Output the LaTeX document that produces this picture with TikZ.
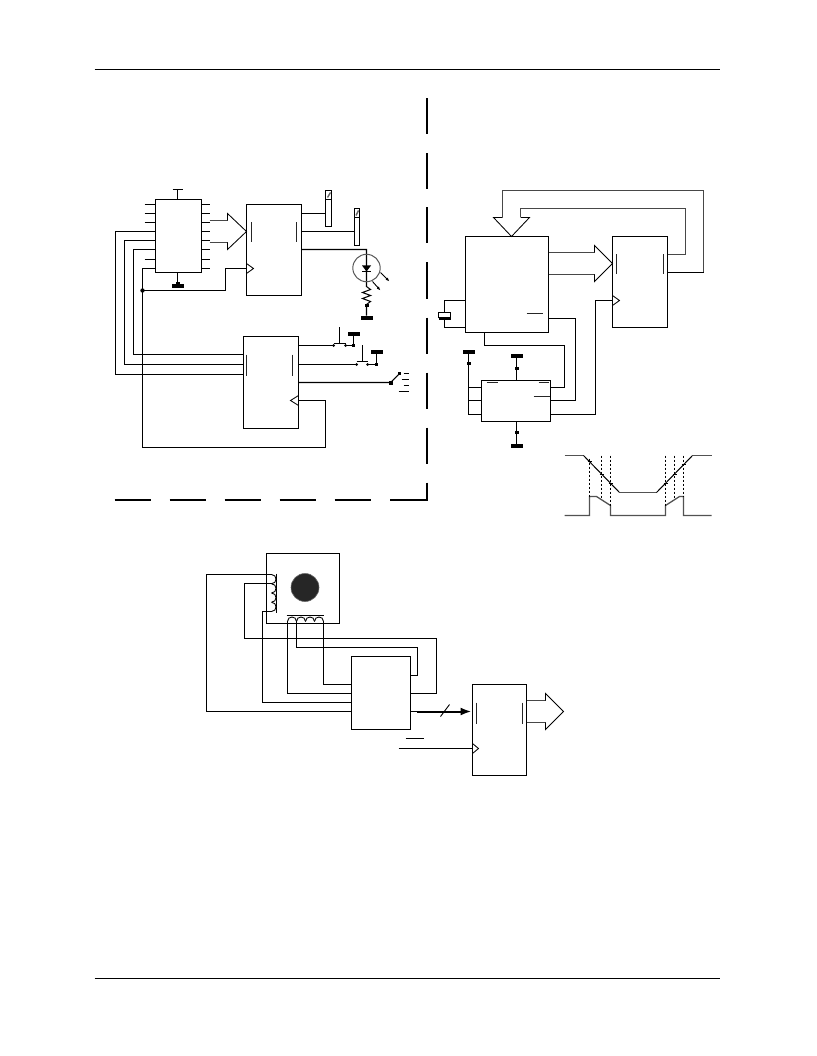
\documentclass[tikz,border=0pt]{standalone}
\usetikzlibrary{arrows.meta}
\newcommand{\icbox}[5]{\node[icb,minimum width={(#4-#2)*1pt},minimum height={(#5-#3)*1pt}] (#1) at ({(#2+#4)/2},{(#3+#5)/2}) {};}
\newcommand{\gbar}[2]{\fill (#1-6,#2-2) rectangle (#1+6,#2+2);}
\newcommand{\gblock}[2]{\fill (#1-2,#2-1.5) rectangle (#1+2,#2+1.5);}
\begin{document}
\begin{tikzpicture}[x=1pt,y=-1pt,line width=1.05pt,line join=miter,
  icb/.style={draw,rectangle,inner sep=0pt,outer sep=0pt,line width=1.05pt},
  wire/.style={draw=black,line width=1.05pt},
  bus/.style={draw=black!72,line width=1.6pt},
  head/.style={draw=black,line width=.85pt,fill=none},
  inbar/.style={draw=black!85,line width=.9pt},
  border/.style={draw=black,line width=2pt},
  rule/.style={draw=black,line width=.8pt},
  wave/.style={draw=black!68,line width=1.3pt},
  wdiag/.style={draw=black,line width=1pt},
  vdash/.style={draw=black,line width=.8pt,dash pattern=on 2.5pt off 1.5pt}]
\useasboundingbox (0,0) rectangle (816,1056);
\begin{scope}[shift={(-.5,.5)}]
% page rules
\coordinate (ruleTL) at (95,68.5); \coordinate (ruleTR) at (720,68.5);
\coordinate (ruleBL) at (95,978); \coordinate (ruleBR) at (720,978);
\draw[rule] (ruleTL) -- (ruleTR);
\draw[rule] (ruleBL) -- (ruleBR);
% dashed border
\foreach \y in {98,153,207,262,317,372,427} \draw[border] (427,\y) -- (427,\y+36);
\draw[border] (427,482) -- (427,499) -- (390,499);
\foreach \x in {115,170,225,280,335} \draw[border] (\x,499) -- (\x+36,499);
% ---- left: chip and latches
\icbox{ua}{156}{199}{202}{272}
\icbox{ub}{247}{204}{302}{295}
\icbox{uc}{244}{336}{299}{428}
\foreach \y in {204,213,222} \draw[wire] (145,\y) -- (156,\y);
\draw[wire] (145,259) -- (156,259);
\foreach \y in {204,213,222,231,240,249,259,268} \draw[wire] (202,\y) -- (210,\y);
\draw[wire] (178,199) -- (178,189) (173,189) -- (183,189);
\coordinate (uaG) at (178,286);
\draw[wire] (178,272) -- (uaG);
\gbar{178}{285.5}
\fill (176,282) rectangle (180,284);
\foreach \n/\x/\ya/\yb in {a/116/231/374,b/125/240/364,c/134/249/354}{
  \coordinate (ua\n) at (156,\ya);
  \coordinate (uc\n) at (244,\yb);
  \draw[wire] (ua\n) -- (\x,\ya) -- (\x,\yb) -- (uc\n);
}
\coordinate (uaClk) at (156,268);
\coordinate (jn) at (143,290);
\coordinate (ubClk) at (247,268);
\coordinate (ucClk) at (299,400);
\draw[wire] (uaClk) -- (143,268) -- (143,447) -- (326,447) -- (326,400) -- (ucClk);
\draw[wire] (jn) -- (226,290) -- (226,268) -- (ubClk);
\fill (jn) circle (2.2);
\draw[inbar] (252,222) -- (252,242) (297,222) -- (297,242);
\draw[inbar] (247,354) -- (247,375) (293,354) -- (293,375);
% clocks
\draw[head] (247,263) -- (254,268) -- (247,273);
\draw[head] (299,395) -- (291,400) -- (299,405);
% bus arrow 1
\draw[bus] (210,220) -- (228,220) (210,242) -- (228,242);
\draw[head] (228,220) -- (228,213) -- (247,231) -- (228,249) -- (228,242);
% slats
\node[icb,minimum width=6pt,minimum height=36pt] (slata) at (329,208) {};
\node[icb,minimum width=5pt,minimum height=37pt] (slatb) at (357.5,226.5) {};
\draw[wire] (326,199) -- (332,199) (355,217) -- (360,217);
\draw[draw=black!60,line width=1.4pt] (328,197) -- (331,192) (356.5,215) -- (359,210);
\coordinate (uba) at (302,213); \coordinate (ubb) at (302,231); \coordinate (ubc) at (302,249);
\draw[wire] (uba) -- (slata.west |- uba);
\draw[wire] (ubb) -- (slatb.west |- ubb);
% LED
\coordinate (ledT) at (367,249); \coordinate (ledG) at (367,315);
\draw[wire] (ubc) -- (ledT) -- (367,286) -- (371,289) -- (363,292) -- (371,295) -- (363,298) -- (371,301) -- (367,304) -- (ledG);
\draw[draw=black!65,line width=1pt] (367,267.5) circle (13.7);
\fill (362.5,265) -- (371.5,265) -- (367,271) -- cycle;
\draw[wire] (362.5,271) -- (371.5,271);
\draw[line width=.9pt,-{Latex[length=4pt,width=3pt]}] (381,272) -- (390,281);
\draw[line width=.9pt,-{Latex[length=4pt,width=3pt]}] (373,281) -- (381,290);
\gblock{367}{304.5}
\gbar{367}{317}
% switches
\coordinate (sw1) at (299,345); \coordinate (sw2) at (299,364); \coordinate (sw3) at (299,382);
\draw[wire] (sw1) -- (334,345) (346,345) -- (354,345) -- (354,333);
\draw[wire] (334,343) -- (346,343) (340,343) -- (340,326);
\fill (334,345) circle (1.5) (346,345) circle (1.5); \fill (352.5,343.5) rectangle (355.5,346.5);
\gbar{354}{333}
\draw[wire] (sw2) -- (357,364) (368,364) -- (377,364) -- (377,351);
\draw[wire] (357,361) -- (368,361) (363,361) -- (363,344);
\fill (357,364) circle (1.5) (368,364) circle (1.5); \fill (375.5,362.5) rectangle (378.5,365.5);
\gbar{377}{351}
\draw[wire] (sw3) -- (391,382) -- (400,373);
\fill (389.5,380) rectangle (393,384); \fill (398,371.5) rectangle (401,374.5);
\draw[line width=.8pt] (404,373) -- (409,373) (402,379) -- (409,379) (404,385) -- (409,385) (399,391) -- (409,391);
% waveform
\draw[wave] (565,455) -- (584,455);
\draw[wdiag] (584,455) -- (620,492);
\draw[wave] (620,492) -- (657,492);
\draw[wdiag] (657,492) -- (693,455);
\draw[wave] (693,455) -- (712,455);
\draw[wave] (565,515) -- (590,515) -- (590,496) -- (597,496) -- (611,505) -- (611,515) -- (666,515) -- (666,505) -- (680,496) -- (684,496) -- (684,515) -- (712,515);
\draw[vdash] (590,458) -- (590,496) (602,455) -- (602,498) (611,455) -- (611,505);
\draw[vdash] (666,455) -- (666,505) (675,455) -- (675,498) (684,455) -- (684,496);
\draw[line width=.8pt] (588,461) -- (592,461) (600,474) -- (604,474) (609,483) -- (613,483)
  (664,483) -- (668,483) (673,474) -- (677,474) (682,464) -- (686,464);
\end{scope}
\begin{scope}[shift={(.5,.5)}]
% ---- right block
\icbox{ra}{465}{236}{548}{332}
\icbox{rb}{612}{236}{667}{327}
\icbox{rc}{481}{380}{550}{421}
\draw[inbar] (616,254) -- (616,274) (663,254) -- (663,274);
\draw[inbar] (526,313) -- (542,313);
\draw[inbar] (486,382) -- (497,382) (538,382) -- (548,382) (533,396) -- (549,396);
\draw[bus] (548,252) -- (594,252) (548,274) -- (594,274);
\draw[head] (594,252) -- (594,245) -- (612,263) -- (594,281) -- (594,274);
\draw[bus] (667,254) -- (685,254) -- (685,208) -- (520,208) -- (520,217);
\draw[bus] (703,272) -- (703,190) -- (502,190) -- (502,217);
\draw[wire] (667,272) -- (703,272);
\draw[head] (502,217) -- (493,217) -- (511,236) -- (529,217) -- (520,217);
% crystal
\coordinate (raX1) at (465,300); \coordinate (raX2) at (465,327);
\node[draw,rectangle,inner sep=0pt,minimum width=12pt,minimum height=5pt,line width=1pt] (xtal) at (444,314.5) {};
\draw[wire] (raX1) -- (444,300) -- (xtal.north);
\draw[wire] (438,318.5) -- (450,318.5) (444,318.5) -- (444,327) -- (raX2);
% right wires
\coordinate (raOut) at (548,318); \coordinate (rcB) at (550,400);
\draw[wire] (raOut) -- (575,318) -- (575,400) -- (rcB);
\coordinate (raBot) at (484,332); \coordinate (rcA) at (550,387);
\draw[wire] (raBot) -- (484,345) -- (564,345) -- (564,387) -- (rcA);
\coordinate (rbClk) at (612,300); \coordinate (rcC) at (550,414);
\draw[wire] (rbClk) -- (595,300) -- (595,414) -- (rcC);
\draw[head] (612,295) -- (619,300) -- (612,305);
\coordinate (rcL1) at (481,387); \coordinate (rcL2) at (481,400); \coordinate (rcL3) at (481,414);
\draw[wire] (468,351) -- (468,414) -- (rcL3);
\draw[wire] (468,387) -- (rcL1) (468,400) -- (rcL2);
\gbar{468}{351}\gblock{468}{363}
\draw[wire] (516,380) -- (516,355);
\gbar{516}{355}\gblock{516}{368}
\draw[wire] (516,421) -- (516,445);
\gbar{516}{445}\gblock{516}{432}
% ---- bottom: motor
\icbox{mot}{266}{553}{339}{623}
\node[circle,fill=black!85,draw=black!60,line width=.6pt,inner sep=0pt,minimum size=28pt] (rotor) at (304.5,587) {};
\draw[wire] (276,573) -- (276,612);
\foreach \y in {574,583.25,592.5,601.75}
  \draw[line width=.9pt] (271,\y) .. controls (277,\y) and (277,\y+9.25) .. (271,\y+9.25);
\draw[wire] (286,615) -- (323,615);
\foreach \x in {287,296,305,314}
  \draw[line width=.9pt] (\x,621) .. controls (\x,615) and (\x+9,615) .. (\x+9,621);
\icbox{drv}{351}{656}{410}{729}
\icbox{lat}{472}{684}{526}{775}
\coordinate (ca) at (271,574); \coordinate (cb) at (271,583); \coordinate (cc) at (271,611);
\coordinate (da) at (287,620); \coordinate (db) at (296,620); \coordinate (dc) at (323,620);
\coordinate (dl1) at (351,684); \coordinate (dl2) at (351,693); \coordinate (dl3) at (351,702); \coordinate (dl4) at (351,711);
\coordinate (dr1) at (410,675); \coordinate (dr2) at (410,693); \coordinate (dr3) at (410,711);
\draw[wire] (ca) -- (206,574) -- (206,711) -- (dl4);
\draw[wire] (cc) -- (262,611) -- (262,702) -- (dl3);
\draw[wire] (da) -- (287,693) -- (dl2);
\draw[wire] (dc) -- (323,684) -- (dl1);
\draw[wire] (cb) -- (244,583) -- (244,638) -- (436,638) -- (436,693) -- (dr2);
\draw[wire] (db) -- (296,647) -- (417,647) -- (417,675) -- (dr1);
\coordinate (latD) at (471,711);
\draw[wire] (dr3) -- (416,711);
\draw[line width=2pt,-{Latex[length=11pt,width=8pt]}] (416,711) -- (latD);
\draw[line width=.9pt] (440,716) -- (449,704);
\draw[inbar] (476,702) -- (476,723) (522,702) -- (522,723);
\coordinate (clkIn) at (398,748); \coordinate (latClk) at (472,748);
\draw[wire] (clkIn) -- (latClk);
\draw[head] (472,743) -- (478,748) -- (472,753);
\draw[line width=.9pt] (405,738) -- (423,738);
\draw[bus] (526,700) -- (545,700) (526,722) -- (545,722);
\draw[head] (545,700) -- (545,693) -- (563,711) -- (545,729) -- (545,722);
\end{scope}
\end{tikzpicture}
\end{document}
